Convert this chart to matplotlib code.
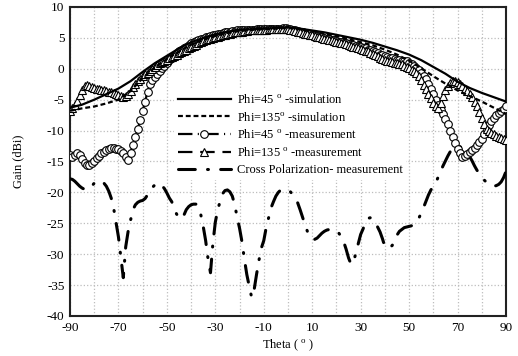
import matplotlib
matplotlib.use("Agg")
import matplotlib.pyplot as plt
import numpy as np

plt.rcParams['font.family'] = ['Liberation Serif', 'DejaVu Serif']
plt.rcParams['mathtext.fontset'] = 'custom'
plt.rcParams['mathtext.rm'] = 'Liberation Serif'
plt.rcParams['mathtext.it'] = 'Liberation Serif:italic'
plt.rcParams['axes.unicode_minus'] = False

# ---- data ----
theta_sim = list(range(-90, 91, 5))
phi45_sim = [-6.3, -5.8, -5.0, -4.1, -3.2, -2.0, -0.5, 0.9, 2.1, 3.3,
             4.3, 5.0, 5.6, 6.0, 6.3, 6.4, 6.5, 6.6, 6.7, 6.5,
             6.2, 5.9, 5.5, 5.1, 4.7, 4.2, 3.6, 3.0, 2.3, 1.4,
             0.3, -0.8, -2.1, -3.1, -3.9, -4.6, -5.3]
phi135_sim = [-6.8, -6.4, -6.1, -5.6, -5.0, -3.6, -1.5, 0.2, 1.6, 2.8,
              3.9, 4.7, 5.3, 5.8, 6.1, 6.3, 6.4, 6.5, 6.6, 6.4,
              6.1, 5.7, 5.3, 4.8, 4.3, 3.8, 3.1, 2.3, 1.3, 0.1,
              -1.2, -2.4, -3.5, -4.4, -5.3, -6.3, -7.3]

theta_meas = list(range(-90, 91, 1))
phi45_meas = [
    -14.0, -14.2, -14.0, -13.7, -13.9, -14.6, -15.2, -15.6, -15.6, -15.3,
    -14.9, -14.5, -14.1, -13.7, -13.4, -13.1, -12.9, -12.8, -12.8, -12.9,
    -13.0, -13.3, -13.7, -14.2, -14.8, -13.6, -12.3, -11.0, -9.7, -8.3,
    -6.8, -5.3, -3.7, -2.4, -1.8, -1.3, -0.8, -0.4, 0.1, 0.5,
    1.0, 1.4, 1.8, 2.1, 2.5, 2.8, 3.1, 3.4, 3.6, 3.9,
    4.1, 4.3, 4.5, 4.6, 4.8, 4.9, 5.1, 5.2, 5.3, 5.4,
    5.5, 5.6, 5.7, 5.8, 5.9, 6.0, 6.0, 6.1, 6.1, 6.2,
    6.2, 6.2, 6.3, 6.3, 6.3, 6.3, 6.3, 6.4, 6.4, 6.4,
    6.4, 6.4, 6.4, 6.4, 6.5, 6.5, 6.5, 6.5, 6.6, 6.6,
    6.5, 6.4, 6.3, 6.2, 6.1, 6.0, 5.9, 5.8, 5.7, 5.6,
    5.5, 5.4, 5.3, 5.2, 5.1, 5.0, 4.9, 4.8, 4.7, 4.6,
    4.5, 4.4, 4.3, 4.2, 4.1, 4.0, 3.9, 3.8, 3.7, 3.6,
    3.5, 3.4, 3.3, 3.1, 3.0, 2.8, 2.7, 2.5, 2.3, 2.2,
    2.0, 1.9, 1.8, 1.7, 1.6, 1.5, 1.4, 1.3, 1.3, 1.2,
    1.0, 0.7, 0.4, 0.1, -0.2, -0.6, -1.1, -1.7, -2.4, -3.2,
    -4.1, -5.0, -5.8, -6.6, -7.3, -8.1, -9.0, -10.0, -11.0, -12.0,
    -12.9, -13.7, -14.2, -14.1, -13.8, -13.5, -13.2, -12.8, -12.3, -11.9,
    -11.3, -10.6, -9.9, -9.1, -8.4, -7.9, -7.5, -7.1, -6.8, -6.5,
    -6.0]
phi135_meas = [
    -6.8, -6.4, -5.9, -5.2, -4.3, -3.5, -2.8, -2.6, -2.8, -3.0,
    -3.1, -3.2, -3.3, -3.4, -3.5, -3.6, -3.7, -3.8, -3.9, -4.1,
    -4.3, -4.4, -4.5, -4.4, -4.1, -3.6, -3.0, -2.5, -2.0, -1.6,
    -1.2, -0.9, -0.6, -0.3, 0.0, 0.3, 0.6, 0.9, 1.1, 1.3,
    1.5, 1.7, 1.9, 2.1, 2.3, 2.5, 2.7, 2.9, 3.1, 3.3,
    3.5, 3.7, 3.9, 4.1, 4.3, 4.5, 4.6, 4.8, 4.9, 5.0,
    5.1, 5.2, 5.3, 5.4, 5.5, 5.6, 5.7, 5.8, 5.9, 5.9,
    6.0, 6.0, 6.1, 6.1, 6.2, 6.2, 6.2, 6.3, 6.3, 6.3,
    6.3, 6.3, 6.4, 6.4, 6.4, 6.4, 6.5, 6.5, 6.5, 6.5,
    6.4, 6.3, 6.2, 6.1, 6.0, 5.9, 5.8, 5.7, 5.6, 5.5,
    5.4, 5.3, 5.2, 5.1, 5.0, 4.9, 4.8, 4.7, 4.6, 4.5,
    4.4, 4.3, 4.2, 4.1, 4.0, 3.9, 3.7, 3.6, 3.5, 3.3,
    3.2, 3.1, 2.9, 2.8, 2.6, 2.4, 2.2, 2.0, 1.8, 1.6,
    1.4, 1.3, 1.2, 1.1, 1.0, 0.9, 0.8, 0.7, 0.5, 0.3,
    0.1, -0.2, -0.4, -0.7, -1.2, -1.8, -2.6, -3.3, -4.0, -4.8,
    -5.5, -6.1, -6.4, -5.6, -4.4, -3.5, -2.8, -2.3, -2.0, -2.0,
    -2.2, -2.5, -2.8, -3.2, -3.6, -4.1, -4.6, -5.3, -6.1, -7.0,
    -8.0, -9.0, -9.7, -10.1, -10.4, -10.6, -10.8, -11.0, -11.2, -11.4,
    -11.6]
cross_meas = [
    -17.8, -17.9, -18.2, -18.6, -19.0, -19.3, -19.5, -19.5, -19.4, -19.0,
    -18.5, -18.2, -18.1, -18.2, -18.5, -19.0, -19.8, -20.9, -22.5, -24.8,
    -27.2, -30.5, -33.8, -28.8, -26.3, -24.5, -22.8, -22.0, -21.6, -21.4,
    -21.3, -21.0, -20.4, -19.9, -19.2, -18.8, -18.5, -18.6, -18.9, -19.4,
    -20.1, -20.9, -21.5, -22.6, -23.5, -24.1, -24.3, -23.7, -22.8, -22.3,
    -22.0, -21.9, -21.9, -22.4, -23.6, -25.5, -27.8, -30.8, -33.0, -28.2,
    -24.8, -22.8, -21.4, -20.2, -19.7, -19.6, -19.9, -20.6, -22.0, -24.0,
    -25.8, -28.0, -30.8, -33.3, -35.2, -37.0, -35.8, -33.3, -31.0, -29.0,
    -27.8, -25.7, -24.1, -22.5, -21.5, -20.6, -20.0, -19.6, -19.5, -19.5,
    -19.6, -19.9, -20.4, -21.0, -21.7, -22.8, -24.0, -25.2, -26.3, -27.2,
    -27.6, -27.6, -27.4, -27.0, -26.6, -26.3, -26.1, -26.0, -26.0, -26.0,
    -26.2, -26.6, -27.2, -28.0, -29.2, -30.6, -31.6, -31.4, -29.8, -28.3,
    -26.8, -25.9, -24.8, -24.2, -24.1, -24.3, -24.8, -25.6, -26.4, -27.5,
    -28.8, -29.0, -28.9, -28.6, -27.8, -26.9, -26.3, -26.0, -25.7, -25.6,
    -25.5, -25.4, -25.2, -24.8, -24.2, -23.3, -22.4, -21.4, -20.4, -19.6,
    -19.0, -18.5, -17.5, -16.6, -15.7, -14.9, -14.1, -13.4, -12.9, -12.6,
    -12.5, -12.6, -12.9, -13.3, -13.7, -14.2, -14.9, -15.7, -16.4, -17.0,
    -17.5, -18.0, -18.4, -18.7, -18.9, -19.0, -18.9, -18.7, -18.3, -17.6,
    -16.6]

x_ticks = [-90, -70, -50, -30, -10, 10, 30, 50, 70, 90]
y_ticks = [10, 5, 0, -5, -10, -15, -20, -25, -30, -35, -40]

labels = [r'Phi=45 $^{\rm o}$ -simulation',
          r'Phi=135$^{\rm o}$ -simulation',
          r'Phi=45 $^{\rm o}$ -measurement',
          r'Phi=135 $^{\rm o}$ -measurement',
          'Cross Polarization- measurement']

# ---- figure ----
fig = plt.figure(figsize=(5.18, 3.56), dpi=100)
ax = fig.add_axes([70/518, 40/356, 436/518, 309/356])

ax.plot(theta_sim, phi45_sim, color='black', lw=1.6, ls='-', zorder=5, label=labels[0])
ax.plot(theta_sim, phi135_sim, color='black', lw=1.6, ls=(0, (2.2, 1.3)), zorder=5, label=labels[1])
ax.plot(theta_meas, phi45_meas, color='black', lw=1.6, ls=(0, (6.5, 2.4, 0.5, 2.4)),
        marker='o', ms=5.5, mfc='white', mec='black', mew=0.8, zorder=4, label=labels[2])
ax.plot(theta_meas, phi135_meas, color='black', lw=1.6, ls=(0, (6.5, 3.5)),
        marker='^', ms=5.5, mfc='white', mec='black', mew=0.8, zorder=4, label=labels[3])
ax.plot(theta_meas, cross_meas, color='black', lw=2.2, ls=(0, (5.5, 4.0, 0.3, 4.0)),
        dash_capstyle='round', zorder=3, label=labels[4])

ax.set_xlim(-90, 90)
ax.set_ylim(-40, 10)
ax.set_xticks(x_ticks)
ax.set_xticks([-80, -60, -40, -20, 0, 20, 40, 60, 80], minor=True)
ax.set_yticks(y_ticks)
ax.tick_params(which='both', length=0, labelsize=9.5, pad=4)
ax.grid(True, which='both', color='#bdbdbd', ls=':', lw=0.9)
ax.set_axisbelow(True)
for s in ax.spines.values():
    s.set_linewidth(1.5)
    s.set_color('#222222')

ax.set_xlabel(r'Theta ( $^{\rm o}$ )', fontsize=9, labelpad=3)
ax.set_ylabel('Gain (dBi)', fontsize=9, labelpad=16)

leg = ax.legend(loc='upper left', bbox_to_anchor=(168/518, 1 - 83/356),
                bbox_transform=fig.transFigure, fontsize=9, frameon=True,
                facecolor='white', edgecolor='none', framealpha=1,
                handlelength=4.2, handletextpad=0.5, labelspacing=0.38,
                borderpad=0.3, numpoints=1, fancybox=False)
leg.set_zorder(10)

fig.savefig('out.png', dpi=100)
